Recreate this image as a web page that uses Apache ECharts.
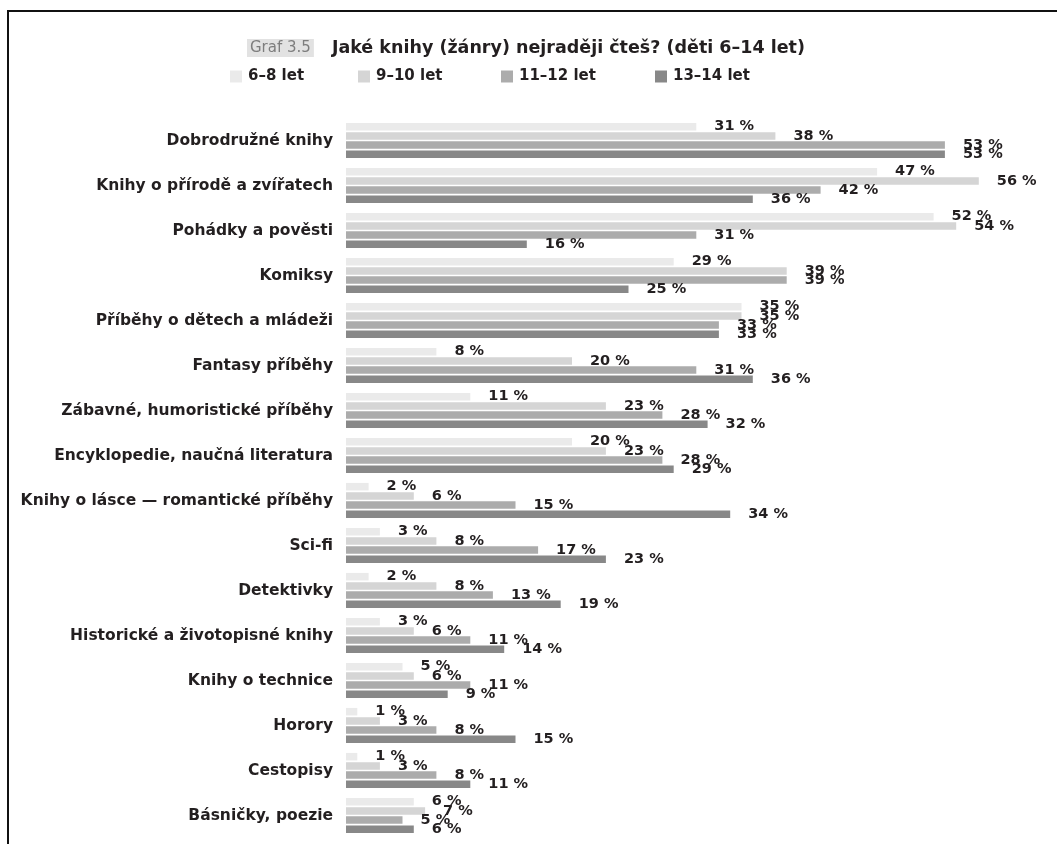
<!DOCTYPE html>
<html>
<head>
<meta charset="utf-8">
<script src="https://cdn.jsdelivr.net/npm/echarts@6/dist/echarts.min.js"></script>
<style>
  html, body { margin: 0; padding: 0; background: #fff; }
  #chart { width: 1057px; height: 844px; }
</style>
</head>
<body>
<div id="chart"></div>
<script>
// Genres, top to bottom
const categories = [
  'Dobrodružné knihy',
  'Knihy o přírodě a zvířatech',
  'Pohádky a pověsti',
  'Komiksy',
  'Příběhy o dětech a mládeži',
  'Fantasy příběhy',
  'Zábavné, humoristické příběhy',
  'Encyklopedie, naučná literatura',
  'Knihy o lásce — romantické příběhy',
  'Sci-fi',
  'Detektivky',
  'Historické a životopisné knihy',
  'Knihy o technice',
  'Horory',
  'Cestopisy',
  'Básničky, poezie'
];

// Share of children (%) per age group
const age6to8   = [31, 47, 52, 29, 35, 8, 11, 20, 2, 3, 2, 3, 5, 1, 1, 6];
const age9to10  = [38, 56, 54, 39, 35, 20, 23, 23, 6, 8, 8, 6, 6, 3, 3, 7];
const age11to12 = [53, 42, 31, 39, 33, 31, 28, 28, 15, 17, 13, 11, 11, 8, 8, 5];
const age13to14 = [53, 36, 16, 25, 33, 36, 32, 29, 34, 23, 19, 14, 9, 15, 11, 6];

const seriesNames = ['6–8 let', '9–10 let', '11–12 let', '13–14 let'];
const seriesData = [age6to8, age9to10, age11to12, age13to14];
const colors = ['#eaeaea', '#d5d5d5', '#acacac', '#888888'];
const legendLeft = [225, 353, 496, 650];

const FONT = '"DejaVu Sans", sans-serif';
const TEXT = '#231f20';

const chart = echarts.init(document.getElementById('chart'), null, { renderer: 'canvas' });

const option = {
  animation: false,
  backgroundColor: '#ffffff',
  title: {
    left: 242,
    top: 34,
    text: '{tag|Graf 3.5}{gap|}{main|Jaké knihy (žánry) nejraději čteš? (děti 6–14 let)}',
    textStyle: {
      rich: {
        tag: {
          fontFamily: FONT, fontSize: 15, fontWeight: 'normal', color: '#7d7d7d',
          backgroundColor: '#e2e2e2', padding: [2, 3, 1, 3]
        },
        gap: { width: 18 },
        main: { fontFamily: FONT, fontSize: 17.5, fontWeight: 'bold', color: TEXT }
      }
    }
  },
  legend: seriesNames.map((name, i) => ({
    data: [name],
    left: legendLeft[i],
    top: 64,
    itemWidth: 12,
    itemHeight: 12,
    itemGap: 6,
    icon: 'rect',
    textStyle: { fontFamily: FONT, fontSize: 15, fontWeight: 'bold', color: TEXT, padding: [0, 0, 0, 1] }
  })),
  grid: { left: 346, top: 118, width: 678, height: 720 },
  xAxis: {
    type: 'value', min: 0, max: 60,
    show: false
  },
  yAxis: {
    type: 'category',
    inverse: true,
    data: categories,
    axisLine: { show: false },
    axisTick: { show: false },
    splitLine: { show: false },
    axisLabel: {
      margin: 13,
      fontFamily: FONT, fontSize: 15.5, fontWeight: 'bold', color: TEXT
    }
  },
  series: seriesNames.map((name, i) => ({
    name,
    type: 'bar',
    data: seriesData[i],
    barWidth: 7.5,
    barGap: '23%',
    itemStyle: { color: colors[i] },
    label: {
      show: true,
      position: 'right',
      distance: 18,
      formatter: p => p.value + ' %',
      fontFamily: FONT, fontSize: 14.5, fontWeight: 'bold', color: TEXT
    }
  })),
  graphic: [
    {
      type: 'polyline',
      shape: { points: [[8, 844], [8, 11], [1057, 11]] },
      style: { stroke: '#111111', lineWidth: 2, fill: null },
      silent: true
    }
  ]
};

chart.setOption(option);
</script>
</body>
</html>
